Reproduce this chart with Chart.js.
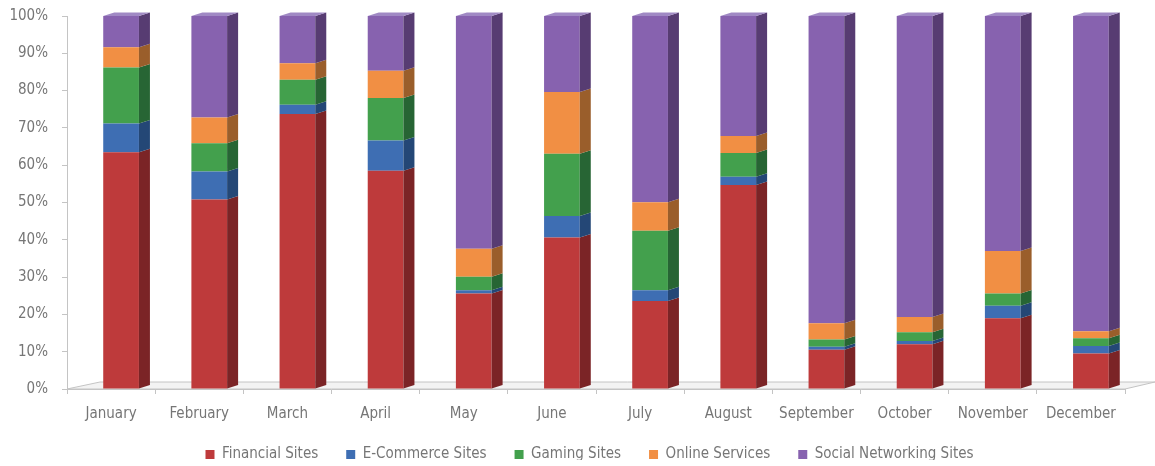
<!DOCTYPE html>
<html>
<head>
<meta charset="utf-8">
<script src="https://cdn.jsdelivr.net/npm/chart.js@4.4.1/dist/chart.umd.min.js"></script>
<style>
    body { margin: 0; background: #fff; }
    #wrap { width: 1155px; height: 466px; }
</style>
</head>
<body>
<div id="wrap"><canvas id="traffic-chart" width="1155" height="466"></canvas></div>
<script>
// Share of visits per month (percent)
const months = ['January', 'February', 'March', 'April', 'May', 'June', 'July', 'August', 'September', 'October', 'November', 'December'];
const financial = [63.5, 50.8, 73.7, 58.5, 25.6, 40.6, 23.6, 54.7, 10.5, 12.0, 19.0, 9.5];
const ecommerce = [7.7, 7.5, 2.5, 8.1, 0.9, 5.8, 2.9, 2.2, 0.8, 0.9, 3.3, 2.0];
const gaming = [15.0, 7.6, 6.7, 11.4, 3.6, 16.7, 15.9, 6.4, 2.0, 2.3, 3.3, 2.1];
const online = [5.4, 6.9, 4.4, 7.3, 7.5, 16.5, 7.7, 4.5, 4.3, 4.1, 11.4, 1.9];
const social = [8.4, 27.2, 12.7, 14.7, 62.4, 20.4, 49.9, 32.2, 82.4, 80.7, 63.0, 84.5];
const seriesNames = ['Financial Sites', 'E-Commerce Sites', 'Gaming Sites', 'Online Services', 'Social Networking Sites'];
const yTicks = [0, 10, 20, 30, 40, 50, 60, 70, 80, 90, 100];

document.addEventListener('DOMContentLoaded', function() {
    const series = [financial, ecommerce, gaming, online, social];
    const frontColors = ['#be3a3b', '#3e6eb3', '#43a04d', '#f18f44', '#8762af'];
    const sideColors = ['#7b2426', '#244776', '#276534', '#9a5e2b', '#573c72'];
    const textColor = '#767676';
    const lineColor = '#c4c4c4';

    // normalise each month to 100%
    const totals = months.map((m, i) => series.reduce((s, arr) => s + arr[i], 0));
    const datasets = series.map((arr, k) => ({
        label: seriesNames[k],
        data: arr.map((v, i) => v / totals[i] * 100),
        backgroundColor: frontColors[k],
        sideColor: sideColors[k],
        borderWidth: 0,
        barPercentage: 0.405,
        categoryPercentage: 1,
        clip: false
    }));

    const depthX = 11, depthY = 3.5, shiftX = 10;

    // fake 3D: floor, side faces and top faces around the flat bars
    const bar3d = {
        id: 'bar3d',
        beforeLayout(chart) {
            const lg = chart.legend;
            if (lg && !lg._patched) {
                const fit = lg.fit;
                lg.fit = function() { fit.call(this); this.height = 41; };
                lg._patched = true;
            }
        },
        afterLayout(chart) {
            // legend sits a bit higher and further right than Chart.js puts it
            const lg = chart.legend;
            lg.top -= 6; lg.bottom -= 6;
            lg.left += 27; lg.right += 27;
        },
        beforeDatasetsDraw(chart) {
            const ctx = chart.ctx;
            const a = chart.chartArea;
            ctx.save();
            ctx.beginPath();
            ctx.moveTo(a.left, a.bottom);
            ctx.lineTo(a.right, a.bottom);
            ctx.lineTo(a.right + 30, a.bottom - 7);
            ctx.lineTo(a.left + 33, a.bottom - 7);
            ctx.closePath();
            ctx.fillStyle = '#f3f3f3';
            ctx.fill();
            ctx.strokeStyle = lineColor;
            ctx.lineWidth = 1;
            ctx.stroke();
            ctx.restore();
            ctx.save();
            ctx.translate(shiftX, 0);
        },
        afterDatasetsDraw(chart) {
            const ctx = chart.ctx;
            const last = chart.data.datasets.length - 1;
            chart.data.datasets.forEach((ds, i) => {
                const meta = chart.getDatasetMeta(i);
                if (meta.hidden) return;
                meta.data.forEach(bar => {
                    const p = bar.getProps(['x', 'y', 'base', 'width'], true);
                    const r = p.x + p.width / 2;
                    const l = p.x - p.width / 2;
                    ctx.fillStyle = ds.sideColor;
                    ctx.beginPath();
                    ctx.moveTo(r, p.y);
                    ctx.lineTo(r + depthX, p.y - depthY);
                    ctx.lineTo(r + depthX, p.base - depthY);
                    ctx.lineTo(r, p.base);
                    ctx.closePath();
                    ctx.fill();
                    if (i === last) {
                        ctx.fillStyle = '#a089c4';
                        ctx.beginPath();
                        ctx.moveTo(l, p.y);
                        ctx.lineTo(l + depthX, p.y - depthY);
                        ctx.lineTo(r + depthX, p.y - depthY);
                        ctx.lineTo(r, p.y);
                        ctx.closePath();
                        ctx.fill();
                    }
                });
            });
            ctx.restore();
        }
    };

    Chart.defaults.font.family = "'Liberation Sans Narrow', 'DejaVu Sans Condensed', sans-serif";
    Chart.defaults.font.size = 15;
    Chart.defaults.color = textColor;

    const ctx = document.getElementById('traffic-chart').getContext('2d');
    new Chart(ctx, {
        type: 'bar',
        data: { labels: months, datasets: datasets },
        options: {
            responsive: false,
            animation: false,
            layout: { padding: { top: 16, right: 30, left: 0, bottom: 0 } },
            scales: {
                x: {
                    stacked: true,
                    grid: { drawOnChartArea: false, tickLength: 5, color: lineColor, offset: true },
                    border: { color: lineColor },
                    ticks: { padding: 11, color: textColor, maxRotation: 0, minRotation: 0, autoSkip: false },
                    afterFit: scale => { scale.height = 36; }
                },
                y: {
                    stacked: true,
                    min: 0,
                    max: 100,
                    afterBuildTicks: scale => { scale.ticks = yTicks.map(v => ({ value: v })); },
                    grid: { drawOnChartArea: false, tickLength: 5, color: lineColor },
                    border: { color: lineColor },
                    ticks: { padding: 14, color: textColor, callback: v => v + '%' },
                    afterFit: scale => { scale.width = 67; scale.paddingTop = 0; }
                }
            },
            plugins: {
                legend: {
                    position: 'bottom',
                    labels: { boxWidth: 9, boxHeight: 9, padding: 28, color: textColor }
                },
                tooltip: { enabled: false }
            }
        },
        plugins: [bar3d]
    });
});
</script>
</body>
</html>
